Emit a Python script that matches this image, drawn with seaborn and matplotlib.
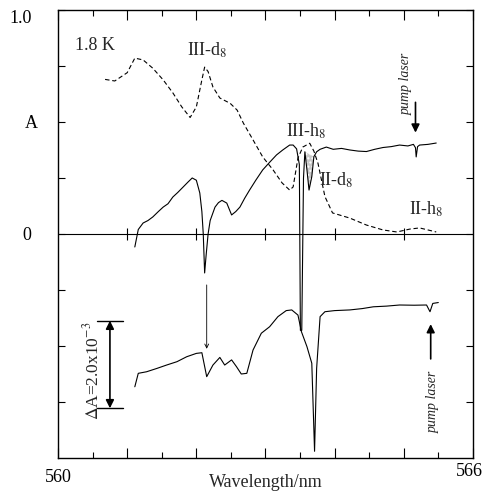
import numpy as np
import pandas as pd
import matplotlib
import matplotlib.pyplot as plt
import matplotlib.transforms as mtransforms
import seaborn as sns

matplotlib.use('agg')

# absorbance of the h8 sample (solid, upper)
h8_wl = [561.11, 561.16, 561.23, 561.30, 561.37, 561.45, 561.52, 561.59, 561.66, 561.73,
         561.81, 561.88, 561.94, 562.00, 562.05, 562.08, 562.10, 562.12, 562.14, 562.17,
         562.20, 562.27, 562.32, 562.37, 562.44, 562.51, 562.57, 562.63, 562.70, 562.77,
         562.86, 562.96, 563.06, 563.16, 563.25, 563.35, 563.40, 563.45, 563.49, 563.505,
         563.525, 563.55, 563.57, 563.60, 563.63, 563.67, 563.70, 563.74, 563.79, 563.88,
         563.98, 564.10, 564.22, 564.34, 564.46, 564.58, 564.70, 564.82, 564.94, 565.06,
         565.14, 565.17, 565.18, 565.20, 565.23, 565.35, 565.47]
h8_abs = [-0.058, 0.02, 0.049, 0.06, 0.076, 0.10, 0.12, 0.135, 0.165, 0.185,
          0.21, 0.232, 0.25, 0.24, 0.183, 0.10, 0.0, -0.174, -0.10, 0.0,
          0.06, 0.12, 0.14, 0.15, 0.138, 0.085, 0.10, 0.12, 0.16, 0.196,
          0.24, 0.286, 0.32, 0.353, 0.375, 0.397, 0.397, 0.38, 0.31, -0.43,
          -0.43, 0.25, 0.367, 0.286, 0.196, 0.256, 0.345, 0.367, 0.378, 0.388,
          0.378, 0.382, 0.375, 0.37, 0.368, 0.378, 0.386, 0.39, 0.397, 0.393,
          0.40, 0.385, 0.344, 0.39, 0.397, 0.40, 0.406]

# absorbance of the d8 sample (dashed)
d8_wl = [560.68, 560.82, 561.00, 561.11, 561.23, 561.37, 561.52, 561.66, 561.79, 561.91,
         562.00, 562.08, 562.12, 562.17, 562.24, 562.34, 562.49, 562.59, 562.68, 562.82,
         562.96, 563.11, 563.24, 563.35, 563.40, 563.47, 563.54, 563.64, 563.70, 563.76,
         563.86, 563.97, 564.22, 564.46, 564.70, 564.90, 565.09, 565.23, 565.47]
d8_abs = [0.69, 0.683, 0.72, 0.785, 0.777, 0.74, 0.688, 0.63, 0.567, 0.52,
          0.567, 0.688, 0.745, 0.725, 0.656, 0.607, 0.583, 0.553, 0.495, 0.42,
          0.344, 0.286, 0.228, 0.196, 0.21, 0.339, 0.388, 0.405, 0.37, 0.315,
          0.167, 0.094, 0.071, 0.04, 0.018, 0.009, 0.022, 0.027, 0.009]

# photo-induced difference spectrum (solid, lower)
diff_wl = [561.11, 561.16, 561.28, 561.43, 561.57, 561.72, 561.86, 562.00, 562.08, 562.15,
           562.24, 562.34, 562.41, 562.51, 562.58, 562.65, 562.73, 562.82, 562.94, 563.06,
           563.18, 563.30, 563.38, 563.47, 563.52, 563.60, 563.67, 563.71, 563.74, 563.79,
           563.86, 564.00, 564.22, 564.40, 564.56, 564.75, 564.94, 565.15, 565.33, 565.38,
           565.42, 565.50]
diff_val = [-0.682, -0.622, -0.615, -0.60, -0.585, -0.57, -0.548, -0.533, -0.53, -0.637,
            -0.585, -0.551, -0.585, -0.562, -0.592, -0.625, -0.622, -0.518, -0.443, -0.414,
            -0.369, -0.342, -0.339, -0.362, -0.436, -0.503, -0.577, -0.97, -0.60, -0.369,
            -0.347, -0.342, -0.339, -0.333, -0.325, -0.322, -0.317, -0.318, -0.317, -0.347,
            -0.31, -0.306]

labels = ['1.8 K', 'III-d$_8$', 'III-h$_8$', 'II-d$_8$', 'II-h$_8$']
label_x = [560.25, 562.16, 563.58, 564.03, 565.32]
label_y = [0.84, 0.82, 0.46, 0.24, 0.11]

sns.set_style('ticks')
plt.rcParams['font.family'] = ['Liberation Serif', 'DejaVu Serif']
plt.rcParams['mathtext.fontset'] = 'stix'

fig = plt.figure(figsize=(4.84, 4.98), dpi=100)
ax = fig.add_axes([0.12, 0.0803, 0.857, 0.8997])

sns.lineplot(x=h8_wl, y=h8_abs, ax=ax, color='black', lw=0.8, sort=False, estimator=None)
sns.lineplot(x=d8_wl, y=d8_abs, ax=ax, color='black', lw=0.8, sort=False, estimator=None)
ax.lines[-1].set_dashes((4, 2.5))
sns.lineplot(x=diff_wl, y=diff_val, ax=ax, color='black', lw=0.8, sort=False, estimator=None)

# shaded II-d8 band
seg = slice(42, 47)
sx = np.array(h8_wl[seg])
sy = np.array(h8_abs[seg])
top = np.interp(sx, [sx[0], sx[-1]], [sy[0], sy[-1]])
ax.fill_between(sx, sy, top, facecolor='#c8c8c8', edgecolor='none', hatch='....', lw=0)

# zero line with ticks
ax.axhline(0, color='black', lw=0.8)
ax.plot([561, 562, 563, 564, 565], [0] * 5, ls='none', marker='|', color='black',
        markersize=9, markeredgewidth=0.8)

for t, x, y in zip(labels, label_x, label_y):
    ha = 'left' if t == '1.8 K' else 'center'
    ax.text(x, y, t, ha=ha, va='center', fontsize=13)

# pump laser arrows
ax.text(565.04, 0.67, 'pump laser', rotation=90, style='italic', fontsize=10,
        ha='center', va='center')
ax.annotate('', xy=(565.17, 0.44), xytext=(565.17, 0.60),
            arrowprops=dict(arrowstyle='-|>', color='black', lw=1.2, mutation_scale=12))
ax.text(565.43, -0.75, 'pump laser', rotation=90, style='italic', fontsize=10,
        ha='center', va='center')
ax.annotate('', xy=(565.39, -0.39), xytext=(565.39, -0.57),
            arrowprops=dict(arrowstyle='-|>', color='black', lw=1.2, mutation_scale=12))

# thin arrow from upper dip to difference spectrum
ax.annotate('', xy=(562.15, -0.525), xytext=(562.15, -0.215),
            arrowprops=dict(arrowstyle='->', color='black', lw=0.6, mutation_scale=7))

# ΔA scale bar
ax.plot([560.56, 560.94], [-0.387, -0.387], color='black', lw=1.0)
ax.plot([560.56, 560.94], [-0.778, -0.778], color='black', lw=1.0)
ax.annotate('', xy=(560.75, -0.387), xytext=(560.75, -0.778),
            arrowprops=dict(arrowstyle='<|-|>', color='black', lw=1.2, mutation_scale=12,
                            shrinkA=0, shrinkB=0))
ax.text(560.49, -0.61, r'$\Delta$A=2.0x10$^{-3}$', rotation=90, fontsize=12.5,
        ha='center', va='center')

ax.set_xlim(560, 566)
ax.set_ylim(-1.0, 1.0)
ax.set_xticks([560, 561, 562, 563, 564, 565, 566])
ax.set_xticklabels(['560', '', '', '', '', '', '566'])
ax.set_xticks(np.arange(560.5, 566, 1.0), minor=True)
ax.set_yticks([-0.75, -0.5, -0.25, 0, 0.25, 0.5, 0.75, 1.0])
ax.set_yticklabels(['', '', '', '0', '', 'A', '', '1.0'])
ax.tick_params(axis='both', which='both', direction='in', top=True, right=True,
               width=0.8, labelsize=13, colors='black')
ax.tick_params(axis='x', which='major', length=7, pad=8)
ax.tick_params(axis='x', which='minor', length=4)
ax.tick_params(axis='y', which='major', length=5, pad=19)

# nudge a few tick labels like in the scanned figure
def nudge(lbl, dx, dy):
    lbl.set_transform(lbl.get_transform() +
                      mtransforms.ScaledTranslation(dx / 100, dy / 100, fig.dpi_scale_trans))

nudge(ax.get_xticklabels()[-1], -3, 6)
nudge(ax.get_yticklabels()[-1], 0, -7)
nudge(ax.get_yticklabels()[5], 6, 0)

for s in ax.spines.values():
    s.set_linewidth(1.0)
    s.set_color('black')
ax.set_xlabel('Wavelength/nm', fontsize=13, labelpad=-9)
ax.set_ylabel('')

fig.savefig('out.png', dpi=100)
plt.close()
